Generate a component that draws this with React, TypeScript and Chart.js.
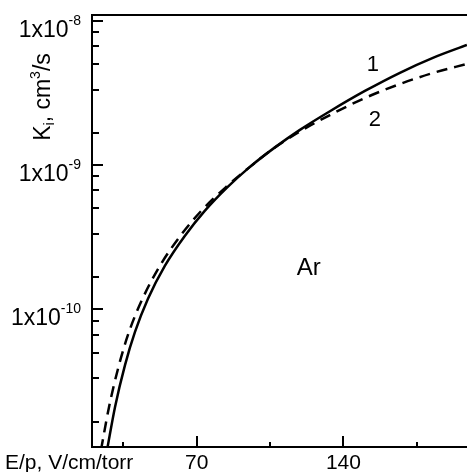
import React, { useEffect, useRef } from "react";
import { Chart, registerables } from "chart.js";

Chart.register(...registerables);

// Curve 1 (solid)
const solidX = [27.16, 30.97, 35.75, 40.52, 46.72, 54.83, 64.37, 73.92, 84.42, 95.39, 107.32, 119.25, 133.57, 150.27, 166.97, 182.72, 198.94];
const solidY = [1.056e-11, 2.10e-11, 4.11e-11, 6.97e-11, 1.183e-10, 2.007e-10, 3.238e-10, 4.829e-10, 6.979e-10, 9.71e-10, 1.325e-9, 1.752e-9, 2.358e-9, 3.259e-9, 4.357e-9, 5.524e-9, 6.786e-9];

// Curve 2 (dashed)
const dashedX = [24.29, 28.11, 32.88, 37.65, 44.1, 52.45, 62.23, 72.25, 83.7, 95.39, 107.32, 119.25, 133.57, 150.27, 166.97, 182.72, 198.94];
const dashedY = [1.059e-11, 2.10e-11, 4.11e-11, 6.97e-11, 1.183e-10, 2.007e-10, 3.238e-10, 4.829e-10, 6.979e-10, 9.71e-10, 1.322e-9, 1.707e-9, 2.22e-9, 2.912e-9, 3.64e-9, 4.339e-9, 5.013e-9];

// Axes
const xMin = 20;
const xMax = 199;
const yMin = 1.112e-11;
const yMax = 1.095e-8;
const xMajorTicks = [70, 140];
const xMinorTicks = [35, 105, 175];
const yMajorExponents = [-8, -9, -10];
const yMinorDecades = [1e-8, 1e-9, 1e-10];
const yMinorMultipliers = [0.8333, 0.6667, 0.5, 0.3333, 0.1667];

// Texts
const xTitle = "E/p, V/cm/torr";
const curveLabels = ["1", "2"];
const curveLabelX = [154.1, 155.0];
const curveLabelY = [4.93e-9, 2.05e-9];
const gasLabel = "Ar";
const gasLabelX = 123.5;
const gasLabelY = 1.93e-10;

const FONT = '"Liberation Sans", Arial, sans-serif';

const framePlugin = {
  id: "frame",
  afterDatasetsDraw(chart: any) {
    const { ctx, chartArea: a, scales } = chart;
    const xs = scales.x;
    const ys = scales.y;
    ctx.save();
    ctx.strokeStyle = "#000";
    ctx.fillStyle = "#000";
    ctx.lineWidth = 2;
    ctx.lineCap = "butt";
    // frame: top, left, bottom
    ctx.beginPath();
    ctx.moveTo(a.right, a.top);
    ctx.lineTo(a.left, a.top);
    ctx.lineTo(a.left, a.bottom);
    ctx.lineTo(a.right, a.bottom);
    ctx.stroke();

    // x ticks (inward)
    ctx.beginPath();
    xMajorTicks.forEach((v) => {
      const px = Math.round(xs.getPixelForValue(v));
      ctx.moveTo(px, a.bottom);
      ctx.lineTo(px, a.bottom - 11);
    });
    xMinorTicks.forEach((v) => {
      const px = Math.round(xs.getPixelForValue(v));
      ctx.moveTo(px, a.bottom);
      ctx.lineTo(px, a.bottom - 5);
    });
    // y ticks
    yMajorExponents.forEach((e) => {
      const py = Math.round(ys.getPixelForValue(Math.pow(10, e)));
      ctx.moveTo(a.left, py);
      ctx.lineTo(a.left + 11, py);
    });
    yMinorDecades.forEach((d) => {
      yMinorMultipliers.forEach((m) => {
        const v = d * m;
        if (v < yMin || v > yMax) return;
        const py = Math.round(ys.getPixelForValue(v));
        ctx.moveTo(a.left, py);
        ctx.lineTo(a.left + 7, py);
      });
    });
    ctx.stroke();

    // x tick labels
    ctx.font = `21px ${FONT}`;
    ctx.textBaseline = "alphabetic";
    ctx.textAlign = "center";
    xMajorTicks.forEach((v) => {
      ctx.fillText(String(v), xs.getPixelForValue(v), a.bottom + 22);
    });
    ctx.textAlign = "left";
    ctx.fillText(xTitle, 5, a.bottom + 22);

    // y tick labels: 1x10^e
    yMajorExponents.forEach((e) => {
      const py = ys.getPixelForValue(Math.pow(10, e));
      const sup = String(e);
      ctx.font = `14px ${FONT}`;
      const supW = ctx.measureText(sup).width;
      ctx.font = `23px ${FONT}`;
      const mainW = ctx.measureText("1x10").width;
      const right = 81;
      ctx.textAlign = "left";
      ctx.fillText("1x10", right - supW - mainW, py + 16);
      ctx.font = `14px ${FONT}`;
      ctx.fillText(sup, right - supW, py + 4);
    });

    // y axis title: K_i, cm^3/s (rotated)
    ctx.save();
    const parts = [
      { t: "K", size: 23, dy: 0 },
      { t: "i", size: 14, dy: 4 },
      { t: ", cm", size: 23, dy: 0 },
      { t: "3", size: 14, dy: -10 },
      { t: "/s", size: 23, dy: 0 },
    ];
    let total = 0;
    parts.forEach((p) => {
      ctx.font = `${p.size}px ${FONT}`;
      total += ctx.measureText(p.t).width;
    });
    ctx.translate(50, 97);
    ctx.rotate(-Math.PI / 2);
    let cx = -total / 2;
    ctx.textAlign = "left";
    parts.forEach((p) => {
      ctx.font = `${p.size}px ${FONT}`;
      ctx.fillText(p.t, cx, p.dy);
      cx += ctx.measureText(p.t).width;
    });
    ctx.restore();

    // curve labels
    ctx.font = `22px ${FONT}`;
    ctx.textAlign = "center";
    ctx.textBaseline = "middle";
    curveLabels.forEach((lab, i) => {
      ctx.fillText(lab, xs.getPixelForValue(curveLabelX[i]), ys.getPixelForValue(curveLabelY[i]));
    });
    ctx.font = `24px ${FONT}`;
    ctx.fillText(gasLabel, xs.getPixelForValue(gasLabelX), ys.getPixelForValue(gasLabelY));
    ctx.restore();
  },
};

export default function App() {
  const ref = useRef<HTMLCanvasElement | null>(null);
  useEffect(() => {
    document.body.style.margin = "0";
    document.body.style.background = "#fff";
    const canvas = ref.current;
    if (!canvas) return;
    const chart = new Chart(canvas, {
      type: "line",
      data: {
        datasets: [
          {
            label: "1",
            data: solidX.map((x, i) => ({ x, y: solidY[i] })),
            borderColor: "#000",
            borderWidth: 2.5,
            pointRadius: 0,
            fill: false,
            cubicInterpolationMode: "monotone",
          },
          {
            label: "2",
            data: dashedX.map((x, i) => ({ x, y: dashedY[i] })),
            borderColor: "#000",
            borderWidth: 2.5,
            borderDash: [11, 7],
            pointRadius: 0,
            fill: false,
            cubicInterpolationMode: "monotone",
          },
        ],
      },
      options: {
        animation: false,
        responsive: false,
        maintainAspectRatio: false,
        devicePixelRatio: 1,
        layout: { padding: { left: 92, top: 15, right: 0, bottom: 25 } },
        plugins: { legend: { display: false }, tooltip: { enabled: false } },
        scales: {
          x: { type: "linear", min: xMin, max: xMax, display: false },
          y: { type: "logarithmic", min: yMin, max: yMax, display: false },
        },
      },
      plugins: [framePlugin],
    });
    return () => chart.destroy();
  }, []);
  return (
    <div style={{ position: "fixed", left: 0, top: 0, width: 467, height: 472, background: "#fff" }}>
      <canvas ref={ref} width={467} height={472} style={{ display: "block", width: 467, height: 472 }} />
    </div>
  );
}
